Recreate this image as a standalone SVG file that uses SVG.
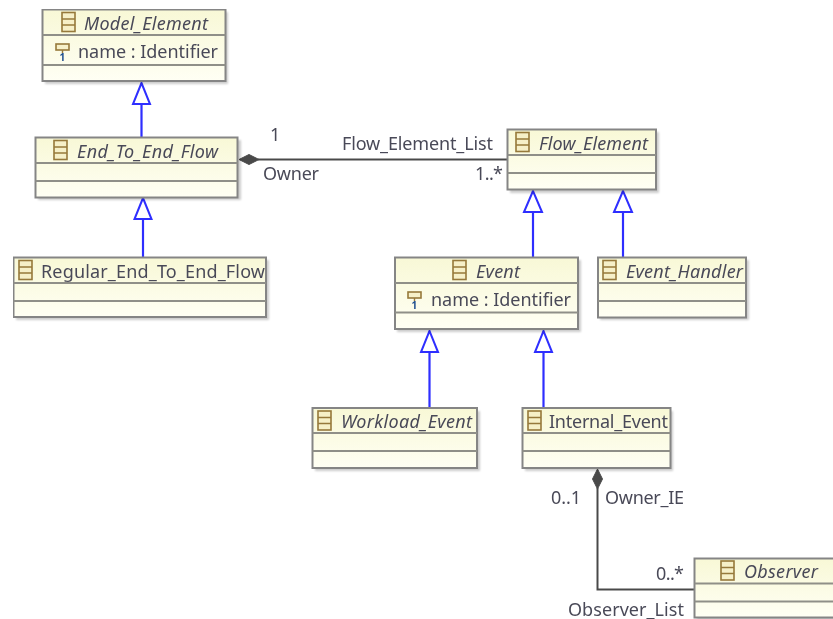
<svg xmlns="http://www.w3.org/2000/svg" width="833" height="619" viewBox="0 0 833 619">
<style>
text{font-family:"Noto Sans","Open Sans","Liberation Sans",sans-serif;font-size:18px;fill:#4a4a58}
.i{font-style:italic}
.box{fill:url(#g);stroke:#858585;stroke-width:2}
.div{stroke:#8f8f88;stroke-width:2;fill:none}
.shadow{fill:#000;opacity:.2;filter:url(#b)}
.gen{stroke:#2f2fff;stroke-width:2.2;fill:none}
.head{stroke:#2f2fff;stroke-width:2;fill:#fff}
.assoc{stroke:#4a4a4a;stroke-width:2;fill:none}
.dia{fill:#4a4a4a;stroke:#4a4a4a}
.ic{fill:#f6f0c8;stroke:#96793a;stroke-width:1.6}
</style>
<defs>
<linearGradient id="g" x1="0" y1="0" x2="0" y2="1"><stop offset="0" stop-color="#f8f8d6"/><stop offset="1" stop-color="#fffff4"/></linearGradient>
<filter id="b" x="-5%" y="-5%" width="110%" height="110%"><feGaussianBlur stdDeviation="1.2"/></filter>
<filter id="s" x="0" y="0" width="100%" height="100%"><feGaussianBlur stdDeviation="0.45"/></filter>
<g id="cl"><rect class="ic" x="0" y="0" width="13" height="19"/><path class="ic" d="M0 6.500H13M0 12.500H13"/></g>
<g id="at"><rect class="ic" x="0" y="0" width="13" height="6"/><path d="M6.500 6V9" stroke="#96793a" stroke-width="1.4"/><text x="3.500" y="17" style="font-size:10px;font-weight:700;fill:#1f4f8f">1</text></g>
</defs>
<rect width="833" height="619" fill="#fff"/>
<g filter="url(#s)">
<g id="connectors">
<path class="gen" d="M141.500 137V105"/><path class="head" d="M141.500 83L133 104H150Z"/>
<path class="gen" d="M143 257V220"/><path class="head" d="M143 198L134.500 219H151.500Z"/>
<path class="gen" d="M533 257V212"/><path class="head" d="M533 191L524 212H542Z"/>
<path class="gen" d="M623 257V212"/><path class="head" d="M623 191L614 212H632Z"/>
<path class="gen" d="M429.500 408V352"/><path class="head" d="M429.500 331L421 352H438Z"/>
<path class="gen" d="M543.500 408V352"/><path class="head" d="M543.500 331L535 352H552Z"/>
<path class="assoc" d="M258 159.500H507"/><path class="dia" d="M239 159.500L249 154.500L259 159.500L249 164.500Z"/>
<path class="assoc" d="M597.500 488V589.500H694"/><path class="dia" d="M597.500 469L602.500 479L597.500 489L592.500 479Z"/>
</g>
<g id="Model_Element"><rect class="shadow" x="45" y="12" width="183" height="72"/><rect class="box" x="42.500" y="9.500" width="183" height="71.500"/><path class="div" d="M42.500 35H225.500M42.500 65H225.500"/><use href="#cl" x="62" y="12.500"/><text class="i" x="84" y="29.500" textLength="124">Model_Element</text><use href="#at" x="56" y="44"/><text x="78" y="57.500" textLength="140">name : Identifier</text></g>
<g id="End_To_End_Flow"><rect class="shadow" x="38" y="140" width="203" height="60"/><rect class="box" x="35.500" y="137.500" width="202" height="60"/><path class="div" d="M35.500 163H237.500M35.500 181H237.500"/><use href="#cl" x="54" y="140.500"/><text class="i" x="77" y="157.500" textLength="141">End_To_End_Flow</text></g>
<g id="Regular_End_To_End_Flow"><rect class="shadow" x="16" y="260" width="253" height="60"/><rect class="box" x="13.500" y="257.500" width="252.500" height="59.500"/><path class="div" d="M13.500 283H266M13.500 301H266"/><use href="#cl" x="19" y="260.500"/><text x="41" y="277.500" textLength="224">Regular_End_To_End_Flow</text></g>
<g id="Flow_Element"><rect class="shadow" x="510" y="132" width="149" height="61"/><rect class="box" x="507.500" y="129.500" width="148.500" height="60"/><path class="div" d="M507.500 155H656M507.500 173H656"/><use href="#cl" x="516" y="132.500"/><text class="i" x="539" y="149.500" textLength="109">Flow_Element</text></g>
<g id="Event_Handler"><rect class="shadow" x="600" y="260" width="149" height="60"/><rect class="box" x="598" y="257.500" width="148" height="60"/><path class="div" d="M598 283H746M598 301H746"/><use href="#cl" x="603" y="260.500"/><text class="i" x="626" y="277.500" textLength="117">Event_Handler</text></g>
<g id="Event"><rect class="shadow" x="397" y="260" width="184" height="72"/><rect class="box" x="395" y="257.500" width="183" height="71.500"/><path class="div" d="M395 283H578M395 312.500H578"/><use href="#cl" x="453" y="260.500"/><text class="i" x="476" y="277.500" textLength="44">Event</text><use href="#at" x="408" y="292"/><text x="431" y="305.500" textLength="140">name : Identifier</text></g>
<g id="Workload_Event"><rect class="shadow" x="315" y="411" width="165" height="60"/><rect class="box" x="312.500" y="408" width="164.500" height="60"/><path class="div" d="M312.500 433H477M312.500 451H477"/><use href="#cl" x="318" y="411"/><text class="i" x="341" y="427.500" textLength="131">Workload_Event</text></g>
<g id="Internal_Event"><rect class="shadow" x="525" y="411" width="148" height="60"/><rect class="box" x="522.500" y="408" width="148" height="60"/><path class="div" d="M522.500 433H670.500M522.500 451H670.500"/><use href="#cl" x="528" y="411"/><text x="549" y="427.500" textLength="119">Internal_Event</text></g>
<g id="Observer"><rect class="shadow" x="697" y="561" width="140" height="60"/><rect class="box" x="694.500" y="558.500" width="140" height="59"/><path class="div" d="M694.500 583.500H833M694.500 601.500H833"/><use href="#cl" x="721" y="561"/><text class="i" x="744" y="577.500" textLength="74">Observer</text></g>
<g id="labels">
<text x="270" y="141">1</text>
<text x="342" y="149.500" textLength="151">Flow_Element_List</text>
<text x="263" y="179.500" textLength="56">Owner</text>
<text x="475" y="179.500" textLength="28">1..*</text>
<text x="551" y="503.500" textLength="30">0..1</text>
<text x="605" y="503.500" textLength="79">Owner_IE</text>
<text x="656" y="579.500" textLength="28">0..*</text>
<text x="568" y="615.500" textLength="116">Observer_List</text>
</g>
</g>
</svg>
